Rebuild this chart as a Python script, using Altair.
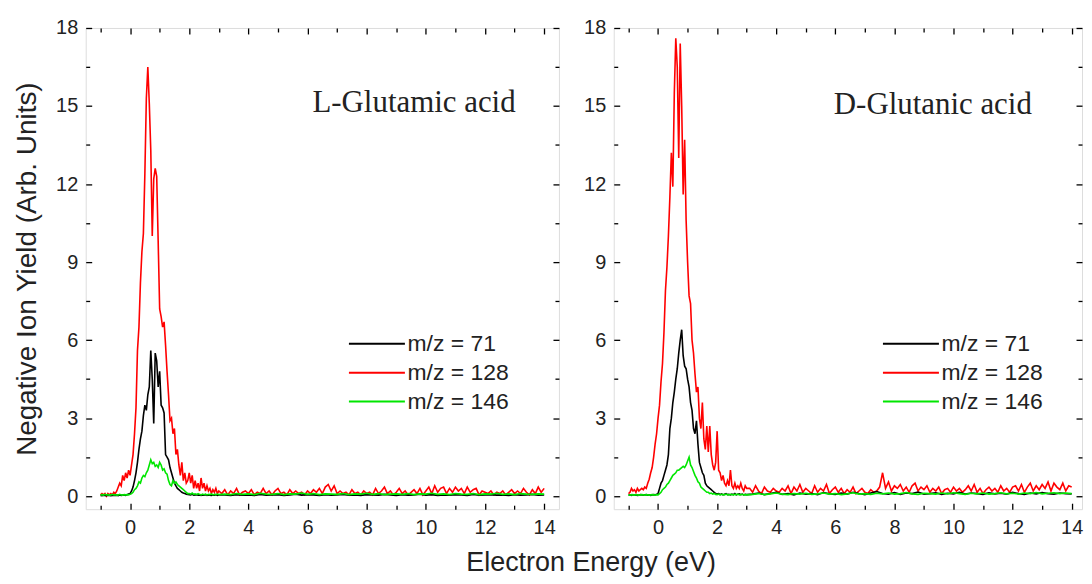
import altair as alt
import pandas as pd

# ---------------- data ----------------
series_labels = ["m/z = 71", "m/z = 128", "m/z = 146"]
series_colors = ["#000000", "#ff0000", "#00e600"]
panel_names = ["L-Glutamic acid", "D-Glutanic acid"]

# sample positions (eV)
x_peak = [round(-1.0 + 0.05 * i, 2) for i in range(81)]       # -1.00 .. 3.00
x_tail_red = [round(3.1 + 0.1 * i, 2) for i in range(110)]    # 3.1 .. 14.0
x_tail_bg = [round(3.2 + 0.2 * i, 2) for i in range(55)]      # 3.2 .. 14.0

# ---- L-Glutamic acid ----
L128_peak = [0.05, 0.1, 0.05, 0.1, 0.0, 0.1, 0.05, 0.1, 0.05, 0.15,
             0.1, 0.2, 0.35, 0.5, 0.4, 0.8, 0.6, 0.9, 0.7, 1.0,
             0.8, 1.2, 1.6, 2.4, 3.4, 5.6, 6.5, 8.2, 9.4, 10.1,
             12.4, 15.3, 16.5, 15.1, 13.3, 10.0, 12.2, 12.6, 12.3, 9.8,
             7.2, 6.9, 6.5, 6.7, 5.8, 4.8, 3.9, 2.9, 3.0, 2.4,
             2.6, 1.6, 1.8, 1.2, 0.8, 1.3, 0.6, 0.9, 0.5, 0.6,
             0.9, 0.5, 0.8, 0.3, 0.6, 0.3, 0.5, 0.2, 0.7, 0.3,
             0.5, 0.2, 0.4, 0.2, 0.3, 0.1, 0.25, 0.15, 0.3, 0.1,
             0.2]
L128_tail = [0.1, 0.25, 0.05, 0.2, 0.1, 0.3, 0.05, 0.15, 0.2, 0.1,
             0.25, 0.05, 0.15, 0.1, 0.3, 0.1, 0.2, 0.05, 0.2, 0.3,
             0.1, 0.15, 0.05, 0.25, 0.1, 0.2, 0.1, 0.15, 0.05, 0.2,
             0.1, 0.25, 0.15, 0.3, 0.1, 0.35, 0.45, 0.2, 0.4, 0.1,
             0.2, 0.1, 0.15, 0.05, 0.25, 0.1, 0.15, 0.05, 0.2, 0.1,
             0.15, 0.05, 0.3, 0.1, 0.2, 0.35, 0.1, 0.2, 0.05, 0.15,
             0.3, 0.1, 0.2, 0.05, 0.15, 0.25, 0.1, 0.3, 0.05, 0.2,
             0.35, 0.1, 0.4, 0.15, 0.3, 0.35, 0.1, 0.3, 0.15, 0.35,
             0.2, 0.3, 0.1, 0.35, 0.15, 0.25, 0.3, 0.05, 0.2, 0.15,
             0.1, 0.2, 0.05, 0.15, 0.1, 0.2, 0.05, 0.15, 0.25, 0.1,
             0.2, 0.1, 0.3, 0.15, 0.05, 0.25, 0.1, 0.35, 0.15, 0.3]
L71_peak = [0.03, 0.02, 0.04, 0.03, 0.02, 0.04, 0.03, 0.02, 0.03, 0.04,
            0.03, 0.04, 0.02, 0.05, 0.03, 0.04, 0.05, 0.03, 0.06, 0.08,
            0.1, 0.2, 0.35, 0.6, 0.9, 1.3, 1.8, 2.2, 2.5, 3.1,
            3.5, 3.3, 3.9, 4.2, 5.6, 4.5, 2.8, 5.5, 5.2, 4.2,
            4.8, 3.5, 3.4, 3.2, 1.6, 1.5, 1.4, 1.1, 0.9, 0.7,
            0.5, 0.4, 0.3, 0.25, 0.2, 0.15, 0.12, 0.1, 0.08, 0.07,
            0.06, 0.05, 0.07, 0.04, 0.05, 0.06, 0.04, 0.05, 0.03, 0.05,
            0.04, 0.06, 0.03, 0.05, 0.04, 0.03, 0.05, 0.04, 0.06, 0.03,
            0.05]
L71_tail = [0.05, 0.03, 0.06, 0.04, 0.05, 0.03, 0.07, 0.04, 0.05, 0.06,
            0.03, 0.05, 0.08, 0.04, 0.06, 0.05, 0.03, 0.06, 0.04, 0.05,
            0.07, 0.04, 0.05, 0.03, 0.06, 0.05, 0.04, 0.07, 0.05, 0.03,
            0.06, 0.04, 0.05, 0.08, 0.04, 0.06, 0.03, 0.05, 0.04, 0.06,
            0.05, 0.03, 0.07, 0.04, 0.05, 0.06, 0.04, 0.05, 0.03, 0.06,
            0.04, 0.05, 0.07, 0.04, 0.05]
L146_peak = [0.05, 0.06, 0.04, 0.07, 0.05, 0.06, 0.04, 0.05, 0.07, 0.05,
             0.06, 0.04, 0.05, 0.07, 0.05, 0.04, 0.06, 0.05, 0.06, 0.05,
             0.07, 0.1, 0.15, 0.25, 0.3, 0.4, 0.55, 0.5, 0.7, 0.8,
             0.75, 0.9, 1.0, 1.2, 1.4, 1.25, 1.3, 1.15, 1.2, 1.1,
             1.3, 1.2, 1.0, 1.05, 0.9, 0.85, 0.6, 0.45, 0.4, 0.6,
             0.5, 0.55, 0.45, 0.4, 0.35, 0.3, 0.25, 0.2, 0.15, 0.1,
             0.1, 0.08, 0.12, 0.07, 0.09, 0.06, 0.1, 0.07, 0.05, 0.08,
             0.06, 0.08, 0.05, 0.07, 0.06, 0.09, 0.05, 0.07, 0.06, 0.08,
             0.06]
L146_tail = [0.08, 0.06, 0.1, 0.07, 0.09, 0.06, 0.11, 0.08, 0.07, 0.1,
             0.06, 0.09, 0.08, 0.12, 0.07, 0.1, 0.06, 0.09, 0.08, 0.07,
             0.1, 0.06, 0.09, 0.08, 0.11, 0.07, 0.1, 0.06, 0.08, 0.09,
             0.07, 0.1, 0.06, 0.09, 0.08, 0.11, 0.07, 0.09, 0.06, 0.1,
             0.08, 0.07, 0.1, 0.06, 0.09, 0.08, 0.11, 0.07, 0.09, 0.06,
             0.1, 0.08, 0.07, 0.09, 0.08]

# ---- D-Glutanic acid ----
D128_peak = [0.1, 0.15, 0.3, 0.2, 0.25, 0.15, 0.3, 0.2, 0.25, 0.3,
             0.25, 0.35, 0.3, 0.5, 0.65, 0.9, 1.1, 1.5, 2.0, 2.4,
             3.0, 3.5, 4.4, 5.1, 6.3, 7.9, 8.8, 10.0, 11.5, 13.2,
             11.9, 15.5, 17.6, 16.5, 13.0, 17.4, 15.0, 11.6, 13.7, 10.6,
             9.0, 7.7, 7.4, 6.0, 5.5, 4.7, 4.0, 4.2, 3.0, 2.6,
             3.6, 2.2, 1.8, 2.7, 1.7, 2.7, 1.6, 1.2, 1.0, 1.3,
             2.5, 1.0, 0.9, 0.6, 0.8, 0.5, 0.4, 0.6, 0.4, 1.0,
             0.4, 0.3, 0.5, 0.3, 0.4, 0.3, 0.5, 0.3, 0.2, 0.4,
             0.3]
D128_tail = [0.3, 0.15, 0.4, 0.2, 0.1, 0.35, 0.2, 0.15, 0.3, 0.2,
             0.15, 0.3, 0.2, 0.4, 0.1, 0.35, 0.2, 0.45, 0.15, 0.3,
             0.2, 0.1, 0.4, 0.15, 0.3, 0.2, 0.45, 0.1, 0.25, 0.35,
             0.15, 0.3, 0.1, 0.25, 0.15, 0.35, 0.1, 0.2, 0.3, 0.15,
             0.1, 0.25, 0.15, 0.2, 0.35, 0.9, 0.3, 0.55, 0.2, 0.4,
             0.3, 0.45, 0.2, 0.35, 0.15, 0.4, 0.5, 0.2, 0.35, 0.25,
             0.4, 0.15, 0.3, 0.2, 0.35, 0.1, 0.25, 0.3, 0.15, 0.35,
             0.2, 0.3, 0.15, 0.25, 0.4, 0.2, 0.45, 0.15, 0.3, 0.1,
             0.25, 0.35, 0.2, 0.3, 0.15, 0.4, 0.2, 0.3, 0.15, 0.35,
             0.4, 0.2, 0.45, 0.15, 0.35, 0.5, 0.2, 0.4, 0.25, 0.45,
             0.3, 0.55, 0.2, 0.5, 0.35, 0.25, 0.5, 0.2, 0.4, 0.35]
D71_peak = [0.04, 0.05, 0.03, 0.06, 0.04, 0.05, 0.03, 0.04, 0.06, 0.05,
            0.04, 0.05, 0.06, 0.04, 0.05, 0.03, 0.05, 0.06, 0.05, 0.07,
            0.1, 0.3, 0.5, 0.6, 0.8, 1.0, 1.2, 1.6, 2.6, 3.0,
            3.6, 4.0, 4.5, 4.9, 5.5, 6.0, 6.4, 5.4, 5.0, 4.9,
            4.5, 4.2, 3.6, 3.3, 2.6, 2.4, 2.9, 2.0, 1.3, 1.1,
            0.9, 0.8, 0.5, 0.4, 0.35, 0.3, 0.25, 0.2, 0.15, 0.1,
            0.08, 0.1, 0.06, 0.09, 0.05, 0.08, 0.1, 0.06, 0.07, 0.05,
            0.08, 0.06, 0.1, 0.05, 0.07, 0.09, 0.06, 0.08, 0.05, 0.07,
            0.06]
D71_tail = [0.08, 0.12, 0.06, 0.1, 0.15, 0.07, 0.1, 0.05, 0.12, 0.08,
            0.1, 0.06, 0.14, 0.09, 0.07, 0.12, 0.08, 0.15, 0.1, 0.06,
            0.12, 0.18, 0.1, 0.08, 0.14, 0.07, 0.12, 0.1, 0.16, 0.08,
            0.1, 0.13, 0.07, 0.11, 0.09, 0.15, 0.08, 0.12, 0.1, 0.07,
            0.13, 0.09, 0.11, 0.08, 0.15, 0.1, 0.07, 0.12, 0.09, 0.14,
            0.1, 0.08, 0.12, 0.1, 0.09]
D146_peak = [0.05, 0.04, 0.06, 0.05, 0.04, 0.06, 0.05, 0.04, 0.05, 0.06,
             0.05, 0.04, 0.06, 0.05, 0.04, 0.05, 0.06, 0.05, 0.04, 0.06,
             0.05, 0.1, 0.15, 0.25, 0.3, 0.35, 0.45, 0.5, 0.6, 0.7,
             0.8, 0.85, 0.9, 1.0, 1.0, 1.05, 1.1, 1.15, 1.1, 1.2,
             1.35, 1.5, 1.2, 1.1, 0.95, 0.8, 0.7, 0.55, 0.5, 0.35,
             0.3, 0.25, 0.2, 0.15, 0.15, 0.1, 0.12, 0.08, 0.1, 0.07,
             0.06, 0.08, 0.05, 0.07, 0.06, 0.05, 0.08, 0.06, 0.05, 0.07,
             0.06, 0.05, 0.07, 0.06, 0.08, 0.05, 0.06, 0.07, 0.05, 0.06,
             0.05]
D146_tail = [0.07, 0.1, 0.06, 0.09, 0.12, 0.08, 0.06, 0.1, 0.08, 0.11,
             0.07, 0.09, 0.12, 0.08, 0.1, 0.06, 0.09, 0.13, 0.08, 0.1,
             0.07, 0.11, 0.09, 0.12, 0.08, 0.1, 0.14, 0.09, 0.07, 0.11,
             0.1, 0.08, 0.12, 0.09, 0.13, 0.1, 0.07, 0.11, 0.09, 0.12,
             0.08, 0.1, 0.13, 0.09, 0.11, 0.08, 0.12, 0.1, 0.14, 0.09,
             0.11, 0.13, 0.1, 0.12, 0.1]

# annotation positions in data units
annot_x = [9.6, 9.3]
annot_y = [15.1, 15.05]

x_major = [0, 2, 4, 6, 8, 10, 12, 14]
x_minor = [-1, 1, 3, 5, 7, 9, 11, 13]
y_major = [0, 3, 6, 9, 12, 15, 18]
y_minor = [1.5, 4.5, 7.5, 10.5, 13.5, 16.5]


def build_df(s71, s128, s146):
    rows = []
    for lab, peak, tail, xt in [
        (series_labels[0], s71[0], s71[1], x_tail_bg),
        (series_labels[1], s128[0], s128[1], x_tail_red),
        (series_labels[2], s146[0], s146[1], x_tail_bg),
    ]:
        for xv, yv in zip(x_peak + xt, peak + tail):
            rows.append({"series": lab, "x": xv, "y": yv})
    return pd.DataFrame(rows)


dfL = build_df((L71_peak, L71_tail), (L128_peak, L128_tail), (L146_peak, L146_tail))
dfD = build_df((D71_peak, D71_tail), (D128_peak, D128_tail), (D146_peak, D146_tail))

FONT = "Liberation Sans"
TXT = "#222222"


def panel(df, idx, width, xdom, show_ytitle, legend_x):
    xs = alt.Scale(domain=xdom, nice=False, zero=False)
    ys = alt.Scale(domain=[-0.5, 18], nice=False, zero=False)
    color = alt.Color(
        "series:N",
        scale=alt.Scale(domain=series_labels, range=series_colors),
        legend=alt.Legend(
            orient="none", legendX=legend_x, legendY=305, title=None,
            symbolType="M-1,0H4.2", symbolSize=467, symbolStrokeWidth=2,
            labelFontSize=23, labelFont=FONT, labelColor=TXT,
            labelOffset=36, rowPadding=5, padding=0,
        ),
    )
    base = alt.Chart(df)

    def tick_axis(orient, vals, size, labels=False, title=None, **kw):
        return alt.Axis(
            orient=orient, values=vals, tickSize=size, offset=-size,
            domain=False, grid=False, labels=labels, title=title,
            tickColor="#000", tickWidth=1.3, **kw,
        )

    x_main = tick_axis("bottom", x_major, 6, labels=True, labelFontSize=20,
                       labelFont=FONT, labelColor=TXT, labelPadding=8,
                       labelFlush=False)
    y_main = tick_axis("left", y_major, 6, labels=True, labelFontSize=20,
                       labelFont=FONT, labelColor=TXT, labelPadding=8,
                       labelFlush=False,
                       title="Negative Ion Yield (Arb. Units)" if show_ytitle else None,
                       titleFontSize=28, titleFont=FONT, titleFontWeight="normal",
                       titleColor=TXT, titlePadding=14)

    layers = []
    order = [series_labels[1], series_labels[0], series_labels[2]]
    for k, s in enumerate(order):
        layers.append(
            base.transform_filter(alt.datum.series == s)
            .mark_line(strokeWidth=1.6, interpolate="linear")
            .encode(
                x=alt.X("x:Q", scale=xs, axis=x_main if k == 0 else None),
                y=alt.Y("y:Q", scale=ys, axis=y_main if k == 0 else None),
                color=color,
            )
        )
    # invisible layers carrying the extra tick axes
    extra = [
        (tick_axis("bottom", x_minor, 4), tick_axis("left", y_minor, 4)),
        (tick_axis("top", x_major, 6), tick_axis("right", y_major, 6)),
        (tick_axis("top", x_minor, 4), tick_axis("right", y_minor, 4)),
    ]
    for ax_x, ax_y in extra:
        layers.append(
            base.mark_point(opacity=0, size=1).encode(
                x=alt.X("x:Q", scale=xs, axis=ax_x),
                y=alt.Y("y:Q", scale=ys, axis=ax_y),
            )
        )
    ann = pd.DataFrame({"x": [annot_x[idx]], "y": [annot_y[idx]], "t": [panel_names[idx]]})
    layers.append(
        alt.Chart(ann).mark_text(font="Liberation Serif", fontSize=31, color=TXT,
                                 align="center", baseline="middle")
        .encode(x=alt.X("x:Q", scale=xs, axis=None),
                y=alt.Y("y:Q", scale=ys, axis=None), text="t:N")
    )
    return (
        alt.layer(*layers)
        .resolve_axis(x="independent", y="independent")
        .properties(width=width, height=483)
    )


left = panel(dfL, 0, 475, [-1.5, 14.5], True, 263)
right = panel(dfD, 1, 470, [-1.5, 14.35], False, 269)

chart = (
    alt.hconcat(left, right, spacing=22)
    .resolve_scale(color="independent")
    .resolve_legend(color="independent")
    .properties(
        title=alt.TitleParams("Electron Energy (eV)", orient="bottom", anchor="middle",
                              fontSize=27, font=FONT, fontWeight="normal", color=TXT,
                              offset=13, dx=43),
        padding={"left": 5, "top": 8, "right": 0, "bottom": 0},
    )
    .configure_view(stroke="#000000", strokeWidth=1.6)
    .configure(background="white")
)

chart.save("out.html", embed_options={"renderer": "svg", "actions": False})
